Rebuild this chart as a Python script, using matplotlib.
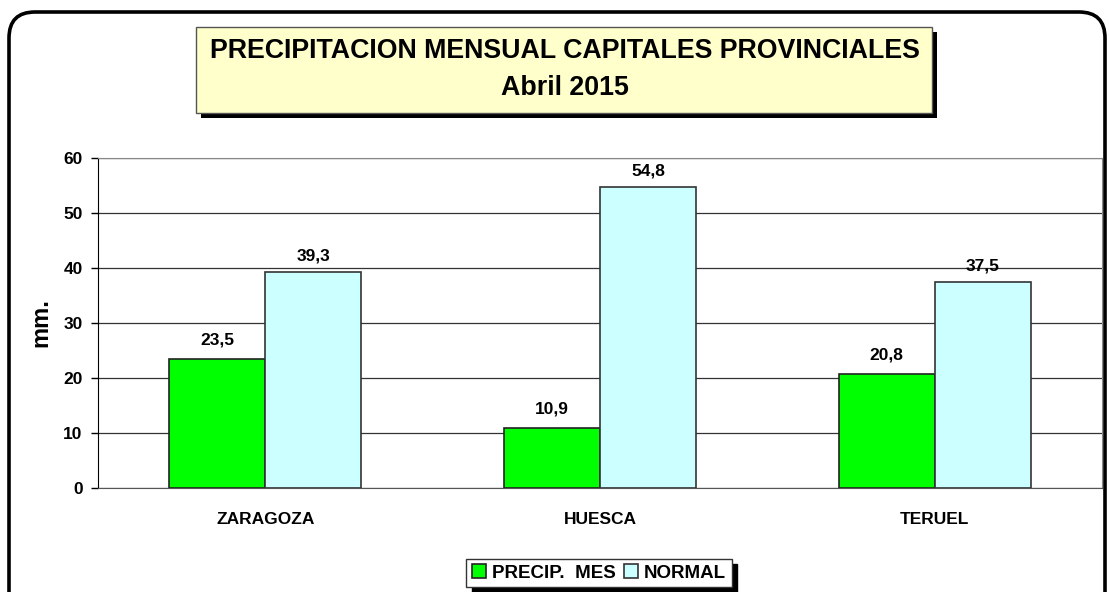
import numpy as np
import matplotlib
matplotlib.use("Agg")
import matplotlib.pyplot as plt
from matplotlib.patches import FancyBboxPatch, Rectangle
from matplotlib.transforms import IdentityTransform

plt.rcParams['font.family'] = ['Liberation Sans', 'DejaVu Sans']
plt.rcParams['font.weight'] = 'bold'

# datos
ciudades = ["ZARAGOZA", "HUESCA", "TERUEL"]
precip_mes = [23.5, 10.9, 20.8]
normal = [39.3, 54.8, 37.5]
yticks = [0, 10, 20, 30, 40, 50, 60]

fig = plt.figure(figsize=(11.09, 5.92), dpi=100)
fig.patch.set_facecolor("white")

# marco exterior redondeado (pixeles)
px = IdentityTransform()
marco = FancyBboxPatch((9, -40), 1096, 620, boxstyle="round,pad=0,rounding_size=26",
                       transform=px, fill=False, edgecolor="black", linewidth=2.6, zorder=0)
fig.patches.append(marco)

ax = fig.add_axes([98 / 1109, 104 / 592, 1004 / 1109, 330 / 592])
x = np.arange(len(ciudades))
w = 0.287
ax.bar(x - w / 2, precip_mes, w, color="#00FF00", edgecolor="#222222", linewidth=1.2,
       label="PRECIP.  MES", zorder=3)
ax.bar(x + w / 2, normal, w, color="#CCFFFF", edgecolor="#333333", linewidth=1.2,
       label="NORMAL", zorder=3)

for i in range(len(ciudades)):
    ax.annotate(f"{precip_mes[i]:.1f}".replace(".", ","), (x[i] - w / 2, precip_mes[i]),
                xytext=(0, 8), textcoords="offset points", ha="center", va="bottom",
                fontsize=12.5, fontweight="bold")
    ax.annotate(f"{normal[i]:.1f}".replace(".", ","), (x[i] + w / 2, normal[i]),
                xytext=(0, 6), textcoords="offset points", ha="center", va="bottom",
                fontsize=12.5, fontweight="bold")

ax.set_xlim(-0.5, len(ciudades) - 0.5)
ax.set_ylim(0, 60)
ax.set_yticks(yticks)
ax.set_yticklabels([str(t) for t in yticks], fontsize=12.5, fontweight="bold")
ax.set_xticks(x)
ax.set_xticklabels(ciudades, fontsize=12.5, fontweight="bold")
ax.tick_params(axis="x", length=0, pad=17)
ax.tick_params(axis="y", length=5, width=1, pad=6)
ax.grid(axis="y", color="#333333", linewidth=0.9, zorder=0)
ax.set_axisbelow(True)
for s in ["top", "right"]:
    ax.spines[s].set_color("#888888")
ax.spines["left"].set_color("black")
ax.spines["bottom"].set_color("#555555")
ax.set_ylabel("mm.", fontsize=17, fontweight="bold", labelpad=8)

# caja del titulo con sombra
fig.patches.append(Rectangle((201, 474), 736, 86, transform=px, facecolor="black",
                             edgecolor="none", zorder=1))
fig.patches.append(Rectangle((196, 479), 736, 86, transform=px, facecolor="#FFFFCC",
                             edgecolor="#555555", linewidth=1, zorder=2))
fig.text(565 / 1109, 541 / 592, "PRECIPITACION MENSUAL CAPITALES PROVINCIALES",
         ha="center", va="center", fontsize=19.3, fontweight="bold", zorder=3)
fig.text(565 / 1109, 504 / 592, "Abril 2015", ha="center", va="center",
         fontsize=19.3, fontweight="bold", zorder=3)

leg = fig.legend(loc="center", bbox_to_anchor=(599 / 1109, 19 / 592), ncol=2,
                 fontsize=13.5, frameon=True, fancybox=False, edgecolor="#333333",
                 handlelength=0.75, handleheight=0.75, handletextpad=0.35,
                 columnspacing=0.4, borderpad=0.3, borderaxespad=0,
                 shadow={"color": "black", "alpha": 1, "ox": 4, "oy": -4})
leg.get_frame().set_linewidth(1)
for t in leg.get_texts():
    t.set_fontweight("bold")

fig.savefig("out.png", dpi=100)
